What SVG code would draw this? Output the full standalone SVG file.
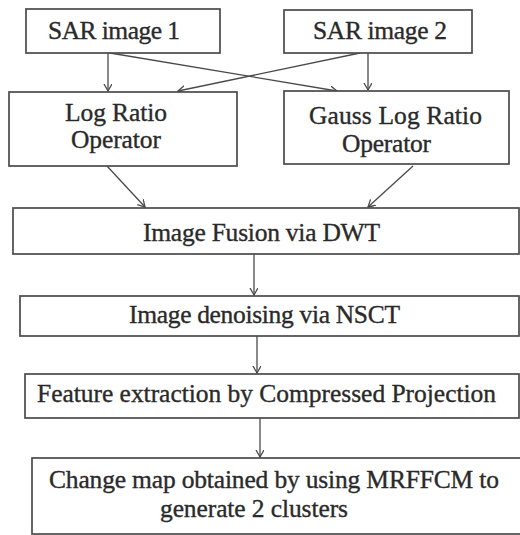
<svg xmlns="http://www.w3.org/2000/svg" width="520" height="535" viewBox="0 0 520 535">
<style>
.box{fill:#fff;stroke:#4a4a4a;stroke-width:1.7}
.t{font-family:"Liberation Serif","Times New Roman",serif;font-size:25.5px;fill:#2a2a2a;stroke:#2a2a2a;stroke-width:0.35;text-anchor:middle}
.c{fill:none;stroke:#4a4a4a;stroke-width:1.3}
</style>
<defs>
<marker id="ah" markerUnits="userSpaceOnUse" markerWidth="10" markerHeight="10" refX="7" refY="4" orient="auto">
<path d="M0,0 L7,4 L0,8" fill="none" stroke="#4a4a4a" stroke-width="1.3"/>
</marker>
</defs>
<rect width="520" height="535" fill="#fff"/>
<g id="connectors">
<line class="c" x1="108" y1="53" x2="108" y2="91" marker-end="url(#ah)"/>
<line class="c" x1="110" y1="53" x2="337" y2="91" marker-end="url(#ah)"/>
<line class="c" x1="368" y1="53" x2="368" y2="90" marker-end="url(#ah)"/>
<line class="c" x1="360" y1="53" x2="178" y2="91" marker-end="url(#ah)"/>
<line class="c" x1="107" y1="166" x2="145" y2="207" marker-end="url(#ah)"/>
<line class="c" x1="413" y1="166" x2="368" y2="207" marker-end="url(#ah)"/>
<line class="c" x1="254" y1="254" x2="254" y2="295" marker-end="url(#ah)"/>
<line class="c" x1="257" y1="336" x2="257" y2="373" marker-end="url(#ah)"/>
<line class="c" x1="260" y1="418" x2="260" y2="457" marker-end="url(#ah)"/>
</g>
<g id="sar1">
<rect class="box" x="26" y="9" width="194" height="44"/>
<text class="t" x="114" y="39" textLength="132">SAR image 1</text>
</g>
<g id="sar2">
<rect class="box" x="284" y="10" width="188" height="43"/>
<text class="t" x="380" y="39" textLength="134">SAR image 2</text>
</g>
<g id="logratio">
<rect class="box" x="9" y="92" width="228" height="74"/>
<text class="t" x="116" y="121" textLength="102">Log Ratio</text>
<text class="t" x="116" y="148" textLength="90">Operator</text>
</g>
<g id="gausslogratio">
<rect class="box" x="284" y="91" width="225" height="73"/>
<text class="t" x="395.5" y="124" textLength="173">Gauss Log Ratio</text>
<text class="t" x="386.5" y="152" textLength="89">Operator</text>
</g>
<g id="fusion">
<rect class="box" x="13" y="208" width="506" height="46"/>
<text class="t" x="261.5" y="241" textLength="237">Image Fusion via DWT</text>
</g>
<g id="denoise">
<rect class="box" x="20" y="296" width="499" height="40"/>
<text class="t" x="264.5" y="323" textLength="271">Image denoising via NSCT</text>
</g>
<g id="feature">
<rect class="box" x="25" y="374" width="494" height="44"/>
<text class="t" x="266.5" y="402" textLength="459">Feature extraction by Compressed Projection</text>
</g>
<g id="changemap">
<rect class="box" x="32" y="458" width="500" height="76"/>
<text class="t" x="274" y="488" textLength="450">Change map obtained by using MRFFCM to</text>
<text class="t" x="254" y="517" textLength="188">generate 2 clusters</text>
</g>
</svg>
